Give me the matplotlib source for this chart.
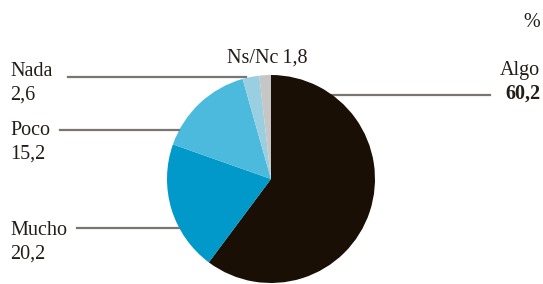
import numpy as np
import matplotlib
matplotlib.use("Agg")
import matplotlib.pyplot as plt

# survey answers, %
labels = ["Algo", "Mucho", "Poco", "Nada", "Ns/Nc"]
values = [60.2, 20.2, 15.2, 2.6, 1.8]
value_text = ["60,2", "20,2", "15,2", "2,6", "1,8"]
colors = ["#1a0f04", "#0099c9", "#4bbadc", "#9acfe2", "#c6c6c6"]

W, H = 543, 284
fig = plt.figure(figsize=(W / 100, H / 100), dpi=100)
ax = fig.add_axes([0, 0, 1, 1])

cx, cy, r = 271, H - 179, 104
ax.pie(values, colors=colors, startangle=90, counterclock=False,
       center=(cx, cy), radius=r, frame=True,
       wedgeprops=dict(linewidth=0))
ax.set_xlim(0, W)
ax.set_ylim(0, H)
ax.axis("off")

font = dict(family="Liberation Serif", size=14.5, color="#231d19")
line_col = "#7a7571"


def y(p):
    return H - p


def edge_x(py, side):
    dy = y(py) - cy
    return cx + side * np.sqrt(max(r * r - dy * dy, 0))


# Nada
ax.text(10, y(76), labels[3], ha="left", va="baseline", **font)
ax.text(10, y(100), value_text[3], ha="left", va="baseline", **font)
ax.plot([68, 246], [y(77), y(77)], color=line_col, lw=1.6)

# Poco
ax.text(10, y(135), labels[2], ha="left", va="baseline", **font)
ax.text(10, y(159), value_text[2], ha="left", va="baseline", **font)
ax.plot([60, edge_x(130, -1)], [y(130), y(130)], color=line_col, lw=1.6)

# Mucho
ax.text(10, y(235), labels[1], ha="left", va="baseline", **font)
ax.text(10, y(259), value_text[1], ha="left", va="baseline", **font)
ax.plot([77, edge_x(228, -1)], [y(228), y(228)], color=line_col, lw=1.6)

# Ns/Nc
ax.text(267, y(63), labels[4] + "\u2009" + value_text[4], ha="center", va="baseline", **font)

# Algo
ax.text(540, y(75), labels[0], ha="right", va="baseline", **font)
ax.text(540, y(99), value_text[0], ha="right", va="baseline",
        fontweight="bold", **font)
ax.plot([edge_x(95, 1) - 3, 490], [y(95), y(95)], color=line_col, lw=1.6, zorder=0)

ax.text(540, y(27), "%", ha="right", va="baseline", **font)

fig.savefig("out.png", dpi=100)
